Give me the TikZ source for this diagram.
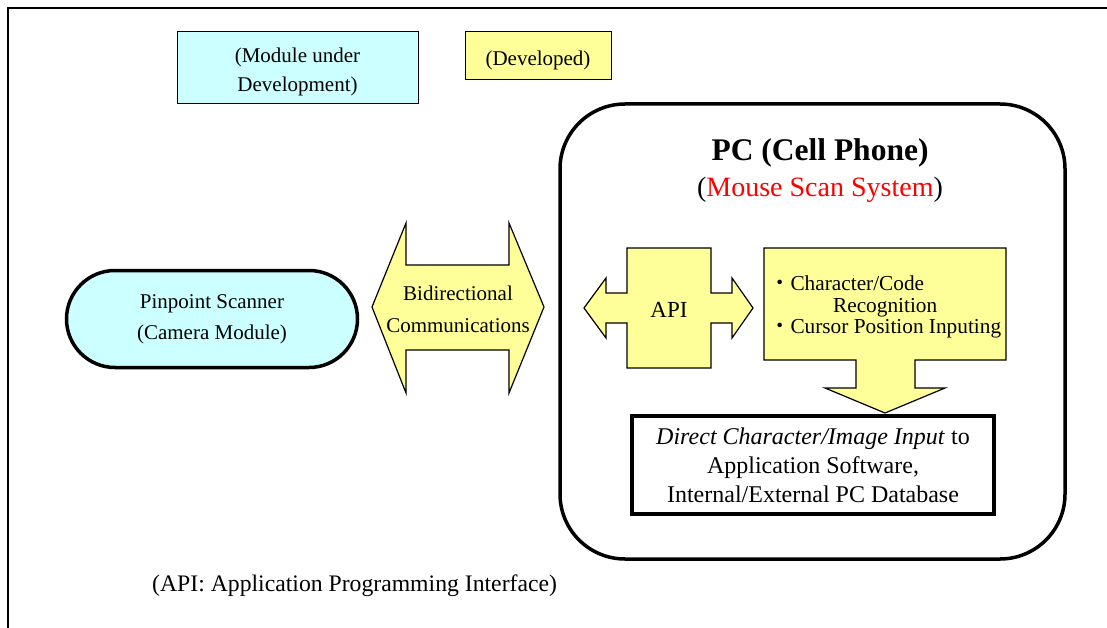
\documentclass[tikz,border=0pt]{standalone}
\usepackage{fontspec}
\setmainfont{Liberation Serif}
\newfontfamily\cjk{Noto Sans CJK JP}
\usepackage{tikz}
\usetikzlibrary{shapes.misc,calc}
\definecolor{devyellow}{HTML}{FFFF99}
\definecolor{devcyan}{HTML}{CCFFFF}
\newcommand{\setfs}[2]{\fontsize{#1}{#2}\selectfont}

\begin{document}
\begin{tikzpicture}[x=1pt,y=-1pt,
    txt/.style={font=\setfs{21}{31}, align=center, inner sep=0pt},
    legendbox/.style={draw, line width=1pt, inner sep=0pt},
    yellowshape/.style={draw=black, fill=devyellow, line width=1.2pt, line join=miter}]
      \useasboundingbox (0,0) rectangle (1107,628);
      \def\frameLines{
        \coordinate (fbl) at (8,628);
        \coordinate (ftl) at (8,8);
        \coordinate (ftr) at (1107,8);
        \draw [line width=1.5pt] (fbl) -- (ftl) -- (ftr);
      }
      \def\legend{
        \node [legendbox, fill=devcyan, minimum width=241, minimum height=72]
          (modlegend) at (297.5,68) {};
        \node [legendbox, fill=devyellow, minimum width=146, minimum height=48]
          (devlegend) at (538,56) {};
        \node [txt, font=\setfs{21}{29}] (modtext) at ($ (modlegend.center)+(0,4) $)
          {(Module under\\Development)};
        \node [txt] (devtext) at ($ (devlegend.center)+(0,4) $) {(Developed)};
      }
      \def\scanner{
        \node [draw, rounded rectangle, fill=devcyan, line width=3.5pt,
          minimum width=291, minimum height=97, txt] (scanner) at (212,319)
          {Pinpoint Scanner\\(Camera Module)};
      }
      \def\bidiArrow{
        % Draw double arrow
        \draw [yellowshape] (372,307) -- (406,223) -- (406,265) -- (509,265)
          -- (509,223) -- (544,307) -- (509,393) -- (509,350) -- (406,350)
          -- (406,393) -- cycle;
        \node [txt, font=\setfs{21}{32}] (bidi) at (458,309)
          {Bidirectional\\Communications};
      }
      \def\pcBox{
        \node [draw, line width=3.5pt, rounded corners=65pt, minimum width=505,
          minimum height=455] (pc) at (812.5,331.5) {};
        \node [inner sep=0pt, font=\setfs{31.5}{36}\bfseries] (pctitle) at (820,153)
          {PC (Cell Phone)};
        \node [inner sep=0pt, font=\setfs{28}{32}] (pcsub) at (820,190)
          {(\textcolor{red}{Mouse Scan System})};
      }
      \def\apiShape{
        % Draw API cross with two arrows
        \draw [yellowshape] (584,308) -- (606,278) -- (606,293) -- (627,293)
          -- (627,248) -- (711,248) -- (711,293) -- (732,293) -- (732,278)
          -- (753,308) -- (732,338) -- (732,323) -- (711,323) -- (711,368)
          -- (627,368) -- (627,323) -- (606,323) -- (606,338) -- cycle;
        \node [txt, font=\setfs{23}{28}] (api) at (669,310) {API};
      }
      \def\recogShape{
        % Draw box with down arrow
        \draw [yellowshape] (764,248) -- (1006,248) -- (1006,360) -- (915,360)
          -- (915,388) -- (945,388) -- (885,413) -- (825,388) -- (856,388)
          -- (856,360) -- (764,360) -- cycle;
        \node [txt, anchor=west, align=left, font=\setfs{21.3}{21.5}] (recog) at (769,307)
          {{\cjk ・}Character/Code\\\hspace*{3em}Recognition\\{\cjk ・}Cursor Position Inputing};
      }
      \def\inputBox{
        \node [draw, fill=white, line width=4pt, minimum width=362, minimum height=98,
          txt, font=\setfs{24}{29}] (input) at (813,465)
          {\textit{Direct Character/Image Input} to\\Application Software,\\Internal/External PC Database};
      }
      \def\note{
        \node [inner sep=0pt, anchor=west, font=\setfs{23.7}{28}] (apinote) at (152,586)
          {(API: Application Programming Interface)};
      }
      \frameLines
      \legend
      \scanner
      \bidiArrow
      \pcBox
      \apiShape
      \recogShape
      \inputBox
      \note
\end{tikzpicture}
\end{document}
